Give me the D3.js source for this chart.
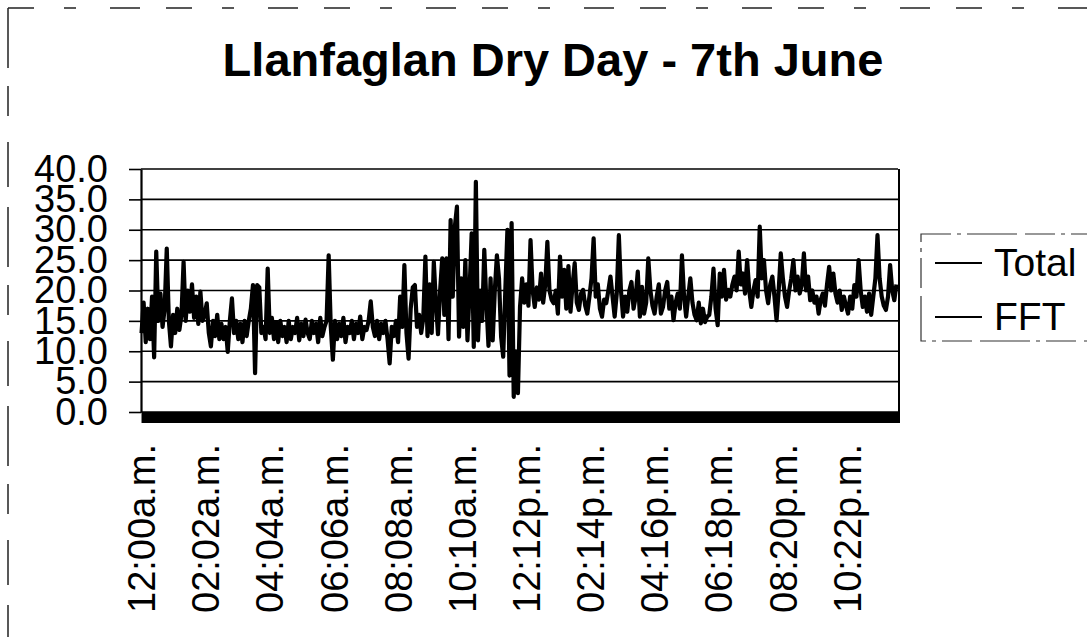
<!DOCTYPE html>
<html><head><meta charset="utf-8">
<script src="https://cdn.jsdelivr.net/npm/d3@7"></script>
<style>
body{margin:0;background:#fff}
svg{display:block}
text{font-family:"Liberation Sans",Arial,sans-serif;fill:#000}
</style>
</head><body>
<svg id="c" width="1087" height="637"></svg>
<script>
const title = "Llanfaglan Dry Day - 7th June";
const seriesNames = ["Total", "FFT"];
const stepMinutes = 4;
const totalValues = [
13,18,11.5,17,12,19,9,26.4,15,19.5,
14,17,26.9,15,10.8,16,13,17,13.5,16,
24.7,15,20,16.5,21,15.5,19,14.5,19.8,15,
16,17.9,13,10.8,15,12.5,16,12,14.5,12,
14,9.9,15,18.7,13,15,12,14.5,11.5,15,
12.5,15,17,20.9,6.4,20.9,20.5,13,14,12,
23.6,13,15.5,12,14.8,11.5,15,12.5,14,11.5,
15,12,14,13,15.5,11.8,14.5,12.5,15.2,13,
12,15,13,14.5,11.5,15.5,12.5,14,15,25.8,
14,8.6,15,12,14.5,12.5,15.5,11.5,14,13,
15,12,14.5,13,15.7,12,14,13.5,15,18.2,
14,12.5,15,12,14.5,13,15,12,8.0,14,
12.5,15,11.5,19,14,24.2,13,8.8,17,20.5,
20.9,14,16,13,15.5,25.6,12.5,21,13,24.7,
18,12.8,20,25.3,16,25.3,12,31.6,19,30.5,
33.8,12.4,22,14,25,11.8,20,29.4,10.7,37.9,
11.8,20,15,26.7,18,10.9,22,11.8,20,25.8,
22,12.4,9.1,20,30.0,6,31.1,2.5,10,3.1,
17.3,22,18,21,17.5,28.3,20,17.3,20.5,18.5,
22.8,18,21,28,20,18.5,17.9,20,16.2,25.6,
19,23.4,17,24,16.5,21,24.5,18,16.8,19.5,
20.1,17.5,16.2,19,22,28.6,19,21,17,15.7,
18.5,17.9,20,22.3,19,15.7,19.5,29.1,20,15.7,
19,16.5,20,21.4,17,19,23.1,15.7,20.6,16.2,
18,25.3,20,17.5,16.2,19,21,16.2,17.3,20,
21.4,17,19,15.1,18,19.5,17,25.8,19,15.7,
19,22,18,16,15.1,18,14.6,17,14.8,15.7,
16,19,23.6,17,14.3,22.8,19,23.4,18.5,20.1,
19,21,22.3,20,26.4,21,22.8,19.5,25,20,
17.3,20,21.7,19,30.5,22,25,20,17.9,21,
22.3,19,15.1,20,26.1,22,19,17.3,20,22,
25,20,22.3,19.5,21,26.1,20,22.3,18.4,20,
18,19,16.2,18.5,19.5,17.5,21,23.9,20,22.8,
19.5,18,20,16.8,19,17.5,16.2,19,17,20.9,
19,25,20,17.3,19,16.5,19.5,16,19,22,
29.1,22,19,17.5,16.8,19,24.2,20,18.4,21
];
const fftMinutes = [0, 240, 480, 720, 960, 1200, 1439];
const fftValues = [0, 0, 0, 0, 0, 0, 0];
const tickMinutes = [0,122,244,366,488,610,732,854,976,1098,1220,1342];
const tickLabels = ["12:00a.m.","02:02a.m.","04:04a.m.","06:06a.m.","08:08a.m.","10:10a.m.","12:12p.m.","02:14p.m.","04:16p.m.","06:18p.m.","08:20p.m.","10:22p.m."];
const yTicks = [0,5,10,15,20,25,30,35,40];

const svg = d3.select("#c");
const L = 141, R = 898, T = 169, B = 412;
const x = d3.scaleLinear().domain([-1, 1439]).range([L, R]);
const y = d3.scaleLinear().domain([0, 40]).range([B, T]);

// outer chart border (scanned, broken)
svg.append("line").attr("x1", 8).attr("y1", 8).attr("x2", 1087).attr("y2", 8)
  .attr("stroke", "#222").attr("stroke-width", 1.5).attr("stroke-dasharray", "26 30 12 34 30 26");
svg.append("line").attr("x1", 8).attr("y1", 8).attr("x2", 8).attr("y2", 637)
  .attr("stroke", "#222").attr("stroke-width", 1.5).attr("stroke-dasharray", "60 18 30 26 45 20");

// title
svg.append("text").attr("x", 553).attr("y", 76).attr("text-anchor", "middle")
  .attr("font-size", 47).attr("font-weight", "bold").text(title);

// gridlines
svg.append("g").selectAll("line").data(yTicks).join("line")
  .attr("x1", L).attr("x2", R).attr("y1", d => y(d)).attr("y2", d => y(d))
  .attr("stroke", "#000").attr("stroke-width", 1.6);

// y axis
const yAxis = svg.append("g").attr("transform", `translate(${L},0)`)
  .call(d3.axisLeft(y).tickValues(yTicks).tickFormat(d3.format(".1f")).tickSize(12).tickPadding(21).tickSizeOuter(0));
yAxis.select(".domain").attr("stroke", "#000").attr("stroke-width", 2.2);
yAxis.selectAll(".tick line").attr("stroke", "#000").attr("stroke-width", 1.6);
yAxis.selectAll("text").attr("font-size", 38).attr("font-family", '"Liberation Sans",Arial,sans-serif').attr("fill", "#000");

// right border
svg.append("line").attr("x1", R + 1).attr("x2", R + 1).attr("y1", T).attr("y2", B + 11)
  .attr("stroke", "#000").attr("stroke-width", 2);

// Total line
const line = d3.line().x(d => x(d[0])).y(d => y(d[1]));
const totalData = totalValues.map((v, i) => [i * stepMinutes, v]);
svg.append("path").datum(totalData).attr("d", line)
  .attr("fill", "none").attr("stroke", "#000").attr("stroke-width", 4.2).attr("stroke-linejoin", "round");

// FFT line (heavy)
const fftData = fftMinutes.map((m, i) => [m, fftValues[i]]);
svg.append("path").datum(fftData).attr("d", d3.line().x(d => x(d[0])).y(d => y(d[1])))
  .attr("transform", "translate(0,5.5)")
  .attr("fill", "none").attr("stroke", "#000").attr("stroke-width", 11);

// x labels
const xg = svg.append("g");
xg.selectAll("text").data(tickMinutes).join("text")
  .attr("transform", d => `translate(${x(d)},444) rotate(-90)`)
  .attr("text-anchor", "end").attr("dy", "0.36em").attr("font-size", 38)
  .text((d, i) => tickLabels[i]);

// legend
svg.append("rect").attr("x", 921).attr("y", 234).attr("width", 180).attr("height", 107)
  .attr("fill", "none").attr("stroke", "#333").attr("stroke-width", 1.2).attr("stroke-dasharray", "30 6 4 6 50 8");
const lg = svg.append("g").selectAll("g").data(seriesNames).join("g")
  .attr("transform", (d, i) => `translate(0,${263 + i * 54})`);
lg.append("line").attr("x1", 935).attr("x2", 982).attr("y1", 0).attr("y2", 0)
  .attr("stroke", "#000").attr("stroke-width", 2.2);
lg.append("text").attr("x", 994).attr("y", 13).attr("font-size", 39).text(d => d);
</script>
</body></html>
